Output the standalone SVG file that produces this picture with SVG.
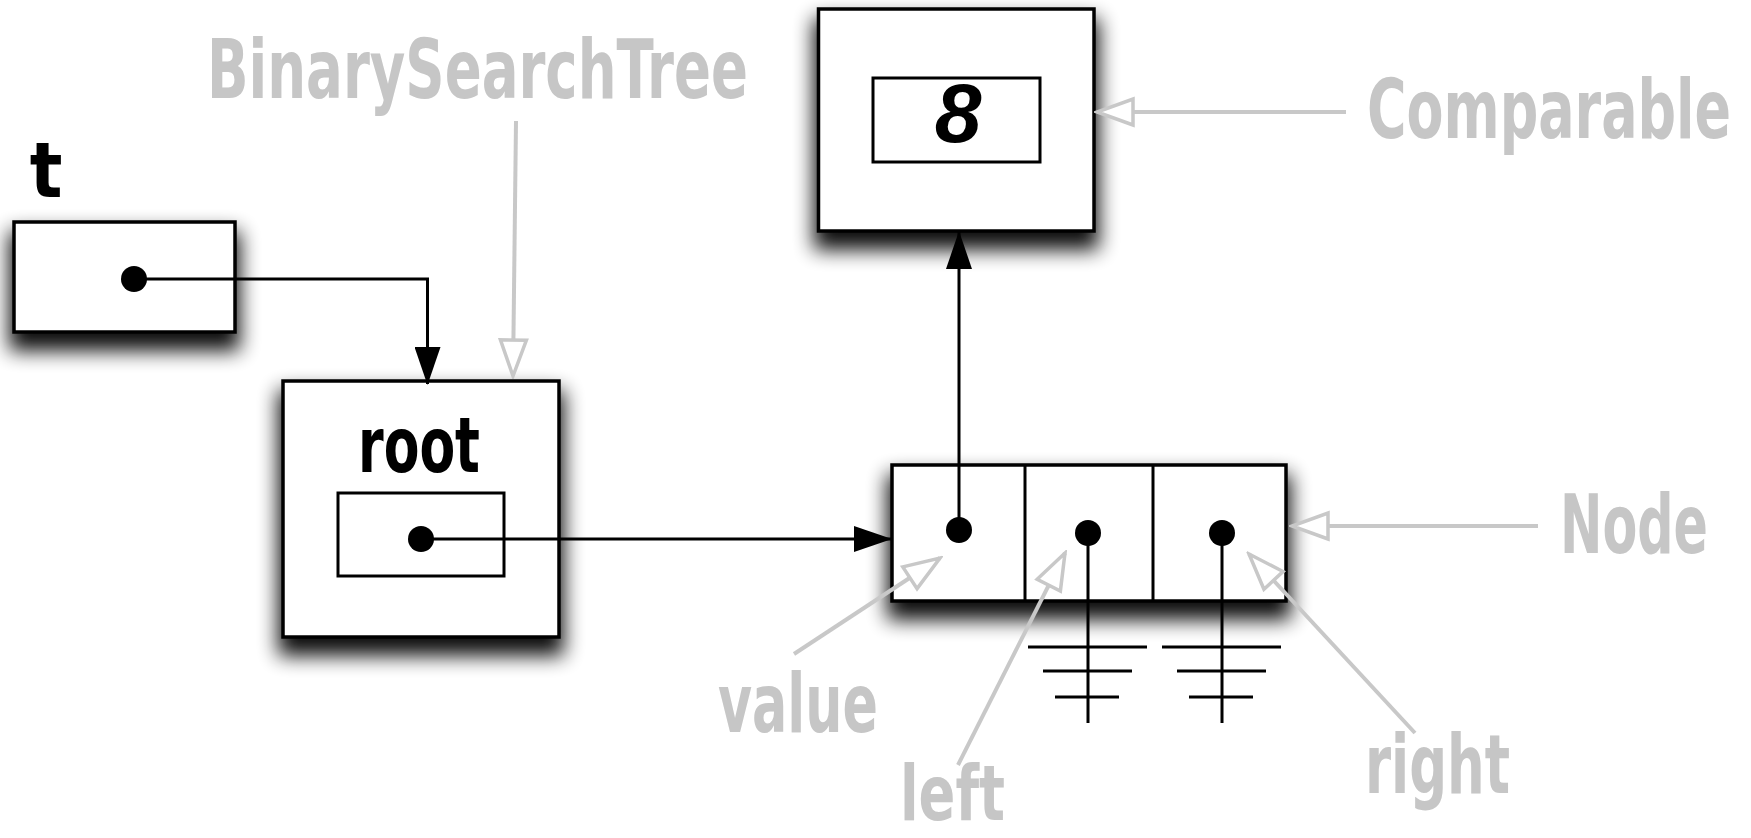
<svg xmlns="http://www.w3.org/2000/svg" width="1751" height="838" viewBox="0 0 1751 838">
<style>
.box{fill:#fff;stroke:#000;stroke-width:3.5}
.inner{fill:none;stroke:#000;stroke-width:3}
.conn{fill:none;stroke:#000;stroke-width:3}
.gconn{fill:none;stroke:#c8c8c8;stroke-width:4}
.lbl{font-family:"Liberation Sans Narrow","DejaVu Sans Condensed","Liberation Sans",sans-serif;font-weight:bold;font-size:82px;fill:#c6c6c6}
.blk{font-family:"Liberation Sans Narrow","DejaVu Sans Condensed","Liberation Sans",sans-serif;font-weight:bold;font-size:76px;fill:#000}
.dot{fill:#000}
</style>
<defs>
<filter id="shadow" x="-25%" y="-25%" width="150%" height="180%">
<feMorphology in="SourceAlpha" operator="dilate" radius="3"/>
<feGaussianBlur stdDeviation="10"/>
<feOffset dx="0" dy="14" result="b"/>
<feComponentTransfer><feFuncA type="linear" slope="0.95"/></feComponentTransfer>
<feMerge><feMergeNode/><feMergeNode in="SourceGraphic"/></feMerge>
</filter>
<marker id="solid" markerUnits="userSpaceOnUse" viewBox="0 0 38 26" refX="37" refY="13" markerWidth="38" markerHeight="26" orient="auto">
<path d="M0,0 L38,13 L0,26 Z" fill="#000"/>
</marker>
<marker id="open" markerUnits="userSpaceOnUse" viewBox="0 0 42 32" refX="39" refY="16" markerWidth="42" markerHeight="32" orient="auto">
<path d="M3,3 L39,16 L3,29 Z" fill="#fff" stroke="#c8c8c8" stroke-width="3.5" stroke-linejoin="miter"/>
</marker>
</defs>
<rect width="1751" height="838" fill="#fff"/>

<g id="node-t">
<rect class="box" x="14" y="222" width="221" height="110" filter="url(#shadow)"/>
<text class="blk" x="46" y="197" text-anchor="middle">t</text>
<circle class="dot" cx="134" cy="279" r="13"/>
</g>

<g id="node-bst">
<rect class="box" x="283" y="381" width="276" height="256" filter="url(#shadow)"/>
<text class="blk" transform="translate(358,472) scale(0.76,1)" textLength="160.5" lengthAdjust="spacingAndGlyphs">root</text>
<rect class="inner" x="338" y="493" width="166" height="83"/>
<circle class="dot" cx="421" cy="539" r="13"/>
</g>

<g id="node-comparable">
<rect class="box" x="818.5" y="9" width="275.5" height="222" filter="url(#shadow)"/>
<rect class="inner" x="873" y="78" width="167" height="84"/>
<text x="958" y="142" text-anchor="middle" font-family="Liberation Sans, sans-serif" font-weight="bold" font-style="italic" font-size="84" fill="#000">8</text>
</g>

<g id="node-node">
<rect class="box" x="892" y="465" width="394" height="136" filter="url(#shadow)"/>
<line class="conn" x1="1025" y1="465" x2="1025" y2="601"/>
<line class="conn" x1="1153" y1="465" x2="1153" y2="601"/>
<circle class="dot" cx="959" cy="530" r="13"/>
<circle class="dot" cx="1088" cy="533" r="13"/>
<circle class="dot" cx="1222" cy="533" r="13"/>
</g>

<g id="connectors">
<path class="conn" d="M134,279 H427.5 V384" marker-end="url(#solid)"/>
<path class="conn" d="M421,539 H891" marker-end="url(#solid)"/>
<path class="conn" d="M959,530 V232" marker-end="url(#solid)"/>
<path class="conn" d="M1088,533 V723 M1028,647 H1147 M1043,671 H1132 M1055,697 H1119"/>
<path class="conn" d="M1222,533 V723 M1162,647 H1281 M1177,671 H1266 M1189,697 H1253"/>
<path class="gconn" d="M516,121 L513,376" marker-end="url(#open)"/>
<path class="gconn" d="M1346,112 L1097,112" marker-end="url(#open)"/>
<path class="gconn" d="M1538,526 L1292,526" marker-end="url(#open)"/>
<path class="gconn" d="M794,654 L940,558" marker-end="url(#open)"/>
<path class="gconn" d="M958,765 L1065,553" marker-end="url(#open)"/>
<path class="gconn" d="M1415,733 L1249,554" marker-end="url(#open)"/>
</g>

<g id="labels">
<text class="lbl" transform="translate(207,98) scale(0.72,1)" textLength="751.4" lengthAdjust="spacingAndGlyphs">BinarySearchTree</text>
<text class="lbl" transform="translate(1367,138) scale(0.72,1)" textLength="505.6" lengthAdjust="spacingAndGlyphs">Comparable</text>
<text class="lbl" transform="translate(1560,553) scale(0.7,1)" textLength="211.4" lengthAdjust="spacingAndGlyphs">Node</text>
<text class="lbl" transform="translate(718,732) scale(0.72,1)" textLength="222.2" lengthAdjust="spacingAndGlyphs">value</text>
<text class="lbl" transform="translate(900,820) scale(0.78,1)" textLength="134.6" lengthAdjust="spacingAndGlyphs" style="font-size:76px">left</text>
<text class="lbl" transform="translate(1365,793) scale(0.72,1)" textLength="201.4" lengthAdjust="spacingAndGlyphs">right</text>
</g>
</svg>
